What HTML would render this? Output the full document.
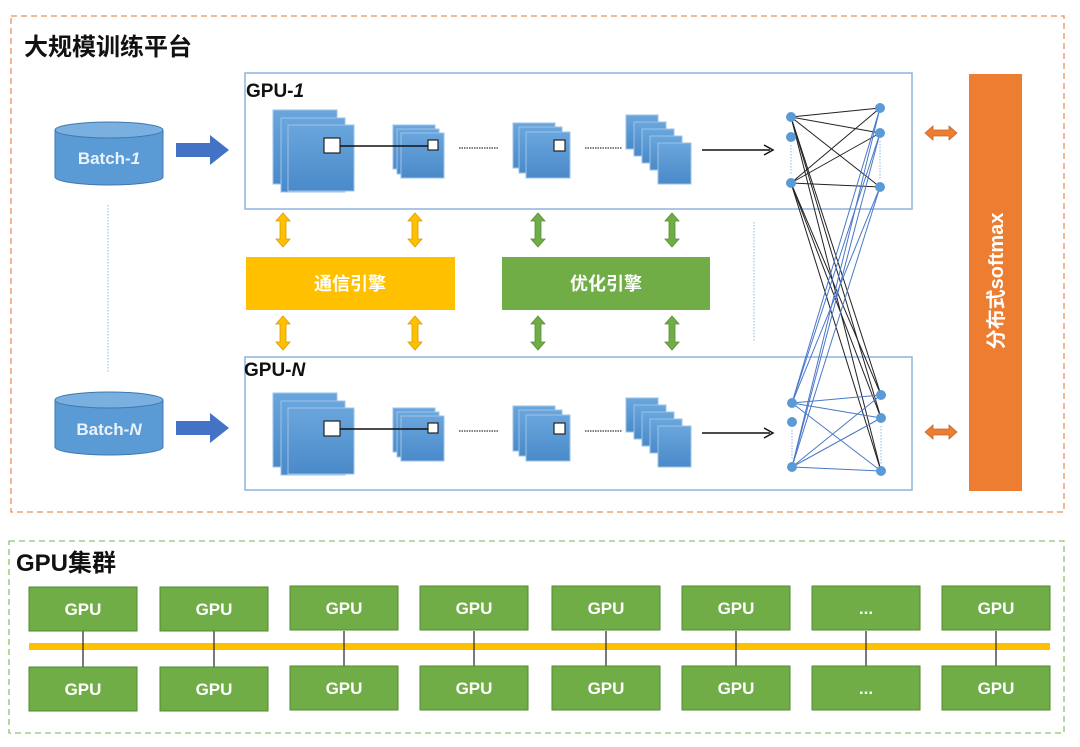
<!DOCTYPE html>
<html><head><meta charset="utf-8"><style>
html,body{margin:0;padding:0;background:#fff;}
svg{display:block;}
text{font-family:"Liberation Sans","Noto Sans CJK SC",sans-serif;font-weight:bold;}
</style></head><body>
<svg width="1080" height="747" viewBox="0 0 1080 747" xmlns="http://www.w3.org/2000/svg">
<defs>
<linearGradient id="sq" x1="0" y1="0" x2="0" y2="1"><stop offset="0" stop-color="#6aa6dd"/><stop offset="1" stop-color="#4a8ac9"/></linearGradient>
<g id="convs">
  <rect x="273" y="110" width="64" height="74" fill="url(#sq)" stroke="#9cc3e8"/>
  <rect x="281" y="118" width="64" height="74" fill="url(#sq)" stroke="#9cc3e8"/>
  <rect x="288" y="125" width="66" height="66" fill="url(#sq)" stroke="#9cc3e8"/>
  <rect x="324" y="138" width="16" height="15" fill="#fff" stroke="#222" stroke-width="1.2"/>
  <rect x="393" y="125" width="42" height="44" fill="url(#sq)" stroke="#9cc3e8"/>
  <rect x="397" y="129" width="42" height="45" fill="url(#sq)" stroke="#9cc3e8"/>
  <rect x="401" y="133" width="43" height="45" fill="url(#sq)" stroke="#9cc3e8"/>
  <rect x="428" y="140" width="10" height="10" fill="#fff" stroke="#222" stroke-width="1.2"/>
  <line x1="340" y1="146" x2="428" y2="146" stroke="#111" stroke-width="1.5"/>
  <line x1="459" y1="148" x2="498" y2="148" stroke="#555" stroke-width="1.5" stroke-dasharray="1.5 1"/>
  <rect x="513" y="123" width="42" height="45" fill="url(#sq)" stroke="#9cc3e8"/>
  <rect x="519" y="127" width="43" height="46" fill="url(#sq)" stroke="#9cc3e8"/>
  <rect x="526" y="132" width="44" height="46" fill="url(#sq)" stroke="#9cc3e8"/>
  <rect x="554" y="140" width="11" height="11" fill="#fff" stroke="#222" stroke-width="1.2"/>
  <line x1="585" y1="148" x2="622" y2="148" stroke="#555" stroke-width="1.5" stroke-dasharray="1.5 1"/>
  <rect x="626" y="115" width="32" height="34" fill="url(#sq)" stroke="#9cc3e8"/>
  <rect x="634" y="122" width="32" height="34" fill="url(#sq)" stroke="#9cc3e8"/>
  <rect x="642" y="129" width="32" height="34" fill="url(#sq)" stroke="#9cc3e8"/>
  <rect x="650" y="136" width="32" height="34" fill="url(#sq)" stroke="#9cc3e8"/>
  <rect x="658" y="143" width="33" height="41" fill="url(#sq)" stroke="#9cc3e8"/>
  <line x1="702" y1="150" x2="770" y2="150" stroke="#111" stroke-width="1.5"/>
  <path d="M764 145 L773 150 L764 155" fill="none" stroke="#111" stroke-width="1.5"/>
</g>
<g id="dbl">
  <path d="M0 -17 L7 -9 L3 -9 L3 9 L7 9 L0 17 L-7 9 L-3 9 L-3 -9 L-7 -9 Z"/>
</g>
<g id="hdbl">
  <path d="M-16 0 L-8 -7 L-8 -3 L8 -3 L8 -7 L16 0 L8 7 L8 3 L-8 3 L-8 7 Z" fill="#ed7d31" stroke="#c8652a" stroke-width="0.8"/>
</g>
</defs>

<rect x="11" y="16" width="1053" height="496" fill="none" stroke="#e8935a" stroke-width="1.3" stroke-dasharray="6 4"/>
<text x="24" y="55" font-size="24" fill="#111">大规模训练平台</text>

<g>
  <path d="M55 130 L55 177 A54 8 0 0 0 163 177 L163 130" fill="#5b9bd5" stroke="#3f78b0"/>
  <ellipse cx="109" cy="130" rx="54" ry="8" fill="#7ab0e0" stroke="#3f78b0"/>
  <text x="109" y="164" font-size="17" fill="#eaf2fb" text-anchor="middle">Batch-<tspan font-style="italic">1</tspan></text>
  <path d="M55 400 L55 447 A54 8 0 0 0 163 447 L163 400" fill="#5b9bd5" stroke="#3f78b0"/>
  <ellipse cx="109" cy="400" rx="54" ry="8" fill="#7ab0e0" stroke="#3f78b0"/>
  <text x="109" y="435" font-size="17" fill="#eaf2fb" text-anchor="middle">Batch-<tspan font-style="italic">N</tspan></text>
  <line x1="108" y1="205" x2="108" y2="372" stroke="#8fb8e0" stroke-width="1" stroke-dasharray="1.5 1.5"/>
  <path d="M176 143 L210 143 L210 135 L229 150 L210 165 L210 157 L176 157 Z" fill="#4472c4"/>
  <path d="M176 421 L210 421 L210 413 L229 428 L210 443 L210 435 L176 435 Z" fill="#4472c4"/>
</g>

<rect x="245" y="73" width="667" height="136" fill="none" stroke="#8fb4dc" stroke-width="1.5"/>
<rect x="245" y="357" width="667" height="133" fill="none" stroke="#8fb4dc" stroke-width="1.5"/>
<text x="246" y="97" font-size="19" fill="#111">GPU-<tspan font-style="italic">1</tspan></text>
<text x="244" y="376" font-size="19" fill="#111">GPU-<tspan font-style="italic">N</tspan></text>
<use href="#convs"/>
<use href="#convs" transform="translate(0,283)"/>

<rect x="246" y="257" width="209" height="53" fill="#ffc000"/>
<text x="350" y="290" font-size="18" fill="#fff" text-anchor="middle">通信引擎</text>
<rect x="502" y="257" width="208" height="53" fill="#70ad47"/>
<text x="606" y="290" font-size="18" fill="#fff" text-anchor="middle">优化引擎</text>
<g fill="#ffc000" stroke="#d99a00" stroke-width="0.8">
  <use href="#dbl" transform="translate(283,230)"/>
  <use href="#dbl" transform="translate(415,230)"/>
  <use href="#dbl" transform="translate(283,333)"/>
  <use href="#dbl" transform="translate(415,333)"/>
</g>
<g fill="#70ad47" stroke="#548f33" stroke-width="0.8">
  <use href="#dbl" transform="translate(538,230)"/>
  <use href="#dbl" transform="translate(672,230)"/>
  <use href="#dbl" transform="translate(538,333)"/>
  <use href="#dbl" transform="translate(672,333)"/>
</g>
<line x1="754" y1="222" x2="754" y2="342" stroke="#8fb8e0" stroke-dasharray="1.5 1.5"/>

<g stroke-width="1">
  <g stroke="#222">
    <line x1="791" y1="117" x2="880" y2="108"/><line x1="791" y1="117" x2="880" y2="133"/><line x1="791" y1="117" x2="880" y2="187"/>
    <line x1="791" y1="183" x2="880" y2="108"/><line x1="791" y1="183" x2="880" y2="133"/><line x1="791" y1="183" x2="880" y2="187"/>
    <line x1="791" y1="117" x2="881" y2="395"/><line x1="791" y1="117" x2="881" y2="418"/><line x1="791" y1="117" x2="881" y2="471"/>
    <line x1="791" y1="183" x2="881" y2="395"/><line x1="791" y1="183" x2="881" y2="418"/><line x1="791" y1="183" x2="881" y2="471"/>
  </g>
  <g stroke="#4a78c8">
    <line x1="792" y1="403" x2="881" y2="395"/><line x1="792" y1="403" x2="881" y2="418"/><line x1="792" y1="403" x2="881" y2="471"/>
    <line x1="792" y1="467" x2="881" y2="395"/><line x1="792" y1="467" x2="881" y2="418"/><line x1="792" y1="467" x2="881" y2="471"/>
    <line x1="792" y1="403" x2="880" y2="108"/><line x1="792" y1="403" x2="880" y2="133"/><line x1="792" y1="403" x2="880" y2="187"/>
    <line x1="792" y1="467" x2="880" y2="108"/><line x1="792" y1="467" x2="880" y2="133"/><line x1="792" y1="467" x2="880" y2="187"/>
  </g>
  <g stroke="#8fb8e0" stroke-dasharray="1.5 1.5">
    <line x1="791" y1="145" x2="791" y2="175"/><line x1="880" y1="141" x2="880" y2="180"/>
    <line x1="792" y1="430" x2="792" y2="460"/><line x1="881" y1="426" x2="881" y2="464"/>
  </g>
  <g fill="#5b9bd5">
    <circle cx="791" cy="117" r="5"/><circle cx="791" cy="137" r="5"/><circle cx="791" cy="183" r="5"/>
    <circle cx="880" cy="108" r="5"/><circle cx="880" cy="133" r="5"/><circle cx="880" cy="187" r="5"/>
    <circle cx="792" cy="403" r="5"/><circle cx="792" cy="422" r="5"/><circle cx="792" cy="467" r="5"/>
    <circle cx="881" cy="395" r="5"/><circle cx="881" cy="418" r="5"/><circle cx="881" cy="471" r="5"/>
  </g>
</g>

<use href="#hdbl" transform="translate(941,133)"/>
<use href="#hdbl" transform="translate(941,432)"/>
<rect x="969" y="74" width="53" height="417" fill="#ed7d31"/>
<text transform="translate(1003,281) rotate(-90)" font-size="20" fill="#fff" text-anchor="middle">分布式softmax</text>

<rect x="9" y="541" width="1055" height="192" fill="none" stroke="#8cc474" stroke-width="1.3" stroke-dasharray="6 4"/>
<text x="16" y="571" font-size="24" fill="#111">GPU集群</text>
<rect x="29" y="643" width="1021" height="7" fill="#ffc000"/>
<g font-size="17" fill="#fff" text-anchor="middle">
<g stroke="#333" stroke-width="1.3">
<line x1="83" y1="631" x2="83" y2="667"/><line x1="214" y1="631" x2="214" y2="667"/><line x1="344" y1="631" x2="344" y2="667"/><line x1="474" y1="631" x2="474" y2="667"/><line x1="606" y1="631" x2="606" y2="667"/><line x1="736" y1="631" x2="736" y2="667"/><line x1="866" y1="631" x2="866" y2="667"/><line x1="996" y1="631" x2="996" y2="667"/>
</g>
<g fill="#70ad47" stroke="#4f8a30" stroke-width="1">
<rect x="29" y="587" width="108" height="44"/><rect x="160" y="587" width="108" height="44"/><rect x="290" y="586" width="108" height="44"/><rect x="420" y="586" width="108" height="44"/><rect x="552" y="586" width="108" height="44"/><rect x="682" y="586" width="108" height="44"/><rect x="812" y="586" width="108" height="44"/><rect x="942" y="586" width="108" height="44"/>
<rect x="29" y="667" width="108" height="44"/><rect x="160" y="667" width="108" height="44"/><rect x="290" y="666" width="108" height="44"/><rect x="420" y="666" width="108" height="44"/><rect x="552" y="666" width="108" height="44"/><rect x="682" y="666" width="108" height="44"/><rect x="812" y="666" width="108" height="44"/><rect x="942" y="666" width="108" height="44"/>
</g>
<text x="83" y="615">GPU</text><text x="214" y="615">GPU</text><text x="344" y="614">GPU</text><text x="474" y="614">GPU</text><text x="606" y="614">GPU</text><text x="736" y="614">GPU</text><text x="866" y="614">...</text><text x="996" y="614">GPU</text>
<text x="83" y="695">GPU</text><text x="214" y="695">GPU</text><text x="344" y="694">GPU</text><text x="474" y="694">GPU</text><text x="606" y="694">GPU</text><text x="736" y="694">GPU</text><text x="866" y="694">...</text><text x="996" y="694">GPU</text>
</g>
</svg>
</body></html>
